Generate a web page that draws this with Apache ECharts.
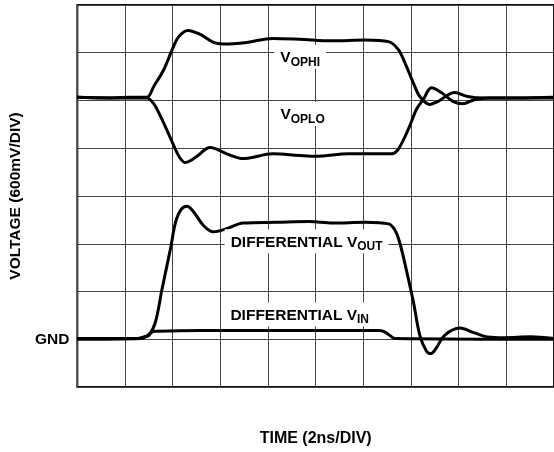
<!DOCTYPE html>
<html>
<head>
<meta charset="utf-8">
<script src="https://cdn.jsdelivr.net/npm/echarts@6/dist/echarts.min.js"></script>
<style>
html,body{margin:0;padding:0;background:#fff;}
#c{width:554px;height:452px;}
</style>
</head>
<body>
<div id="c"></div>
<script>
// Time in ns (2 ns/div), voltage in V (0.6 V/div), GND = 0
const ophiT = [0, 1.0, 2.25, 2.91, 3.21, 3.63, 3.98, 4.25, 4.64, 5.16, 5.71, 6.13, 7.10, 8.20, 9.31, 10.70, 12.09, 13.06, 13.47, 13.75, 14.10, 14.37, 14.79, 15.14, 15.83, 16.38, 17.08, 18.46, 20];
const ophiV = [3.04, 3.03, 3.04, 3.04, 3.18, 3.39, 3.64, 3.80, 3.88, 3.83, 3.73, 3.71, 3.73, 3.78, 3.77, 3.75, 3.76, 3.74, 3.64, 3.47, 3.22, 3.05, 2.95, 2.99, 3.10, 3.05, 3.03, 3.03, 3.04];

const oploT = [0, 2.25, 2.91, 3.20, 3.49, 3.74, 4.05, 4.28, 4.53, 4.78, 5.02, 5.57, 6.27, 6.96, 8.20, 9.31, 10.01, 11.39, 12.64, 13.19, 13.47, 13.89, 14.23, 14.51, 14.86, 15.27, 15.76, 16.17, 16.66, 17.21, 20];
const oploV = [3.04, 3.03, 3.03, 2.96, 2.80, 2.64, 2.43, 2.29, 2.22, 2.25, 2.30, 2.41, 2.33, 2.27, 2.33, 2.31, 2.30, 2.33, 2.33, 2.33, 2.39, 2.64, 2.89, 3.01, 3.16, 3.10, 2.99, 2.96, 3.01, 3.03, 3.03];

const voutT = [0, 2.52, 2.79, 3.01, 3.28, 3.56, 3.91, 4.12, 4.35, 4.60, 4.88, 5.29, 5.71, 6.27, 6.96, 8.35, 9.73, 10.70, 12.09, 13.06, 13.33, 13.54, 13.82, 14.10, 14.37, 14.65, 14.83, 15.06, 15.41, 16.04, 16.66, 17.21, 17.91, 19.01, 20];
const voutV = [0.01, 0.01, 0.03, 0.05, 0.22, 0.64, 1.14, 1.47, 1.63, 1.67, 1.60, 1.43, 1.35, 1.39, 1.46, 1.47, 1.48, 1.46, 1.47, 1.45, 1.37, 1.20, 0.85, 0.47, 0.05, -0.15, -0.18, -0.11, 0.05, 0.14, 0.08, 0.03, 0.02, 0.03, 0.01];

const vinT = [0, 2.66, 2.91, 3.12, 3.33, 5.16, 9.31, 12.64, 12.85, 13.06, 13.33, 20];
const vinV = [0.00, 0.01, 0.04, 0.09, 0.10, 0.11, 0.11, 0.11, 0.10, 0.06, 0.01, 0.00];

const xTitle = 'TIME (2ns/DIV)';
const yTitle = 'VOLTAGE (600mV/DIV)';
const gndLabel = 'GND';

// label anchors [time, volt] and texts
const labels = [
  {at: [9.35, 3.55], main: 'V', sub: 'OPHI'},
  {at: [9.45, 2.83], main: 'V', sub: 'OPLO'},
  {at: [9.62, 1.23], main: 'DIFFERENTIAL V', sub: 'OUT'},
  {at: [9.33, 0.31], main: 'DIFFERENTIAL V', sub: 'IN'}
];

const zip = (t, v) => t.map((x, i) => [x, v[i]]);
const FONT = '"Liberation Sans", Arial, Helvetica, sans-serif';

function lineSeries(name, data, withLabels) {
  const s = {
    name, type: 'line', data, showSymbol: false, smooth: 0.35,
    lineStyle: {color: '#000', width: 3}, z: 3, animation: false
  };
  if (withLabels) {
    s.markPoint = {
      symbol: 'rect', symbolSize: 1, itemStyle: {color: 'rgba(0,0,0,0)'},
      animation: false,
      data: labels.map(l => ({
        coord: l.at,
        label: {
          show: true, position: 'inside',
          formatter: '{a|' + l.main + '}{b|' + l.sub + '}',
          backgroundColor: '#fff', padding: [4, 6, 2, 6],
          rich: {
            a: {fontFamily: FONT, fontWeight: 'bold', fontSize: 15.5, color: '#000', lineHeight: 18},
            b: {fontFamily: FONT, fontWeight: 'bold', fontSize: 12, color: '#000', padding: [9, 0, 0, 0], lineHeight: 18}
          }
        }
      }))
    };
  }
  return s;
}

const chart = echarts.init(document.getElementById('c'), null, {renderer: 'canvas'});
chart.setOption({
  backgroundColor: '#fff',
  animation: false,
  grid: {left: 76, top: 5, width: 481, height: 384, show: true, borderColor: '#111', borderWidth: 2, backgroundColor: 'transparent'},
  xAxis: {
    type: 'value', min: 0, max: 20, interval: 2,
    axisLine: {show: false}, axisTick: {show: false}, axisLabel: {show: false},
    splitLine: {show: true, lineStyle: {color: '#444', width: 1}},
    name: xTitle, nameLocation: 'middle', nameGap: 44,
    nameTextStyle: {fontFamily: FONT, fontWeight: 'bold', fontSize: 16, color: '#000'}
  },
  yAxis: {
    type: 'value', min: -0.6, max: 4.2, interval: 0.6,
    axisLine: {show: false}, axisTick: {show: false},
    axisLabel: {
      show: true, margin: 8,
      formatter: v => (Math.abs(v) < 1e-9 ? gndLabel : ''),
      fontFamily: FONT, fontWeight: 'bold', fontSize: 15.5, color: '#000'
    },
    splitLine: {show: true, lineStyle: {color: '#444', width: 1}},
    name: yTitle, nameLocation: 'middle', nameGap: 53, nameRotate: 90,
    nameTextStyle: {fontFamily: FONT, fontWeight: 'bold', fontSize: 15.5, color: '#000'}
  },
  series: [
    lineSeries('VOPHI', zip(ophiT, ophiV), true),
    lineSeries('VOPLO', zip(oploT, oploV), false),
    lineSeries('VOUT', zip(voutT, voutV), false),
    lineSeries('VIN', zip(vinT, vinV), false)
  ]
});
</script>
</body>
</html>
